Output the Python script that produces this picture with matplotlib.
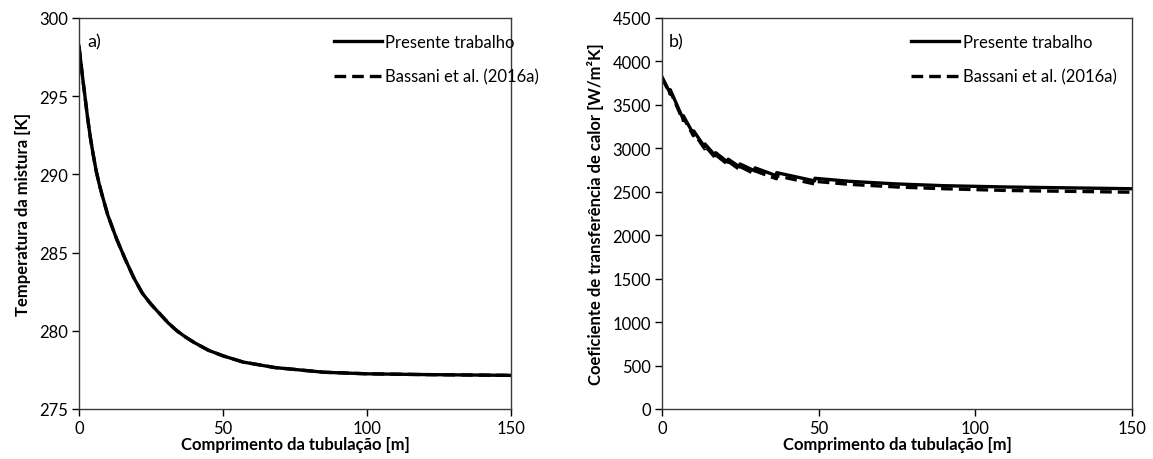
import numpy as np
import matplotlib
matplotlib.use('Agg')
from matplotlib import pyplot as plt

plt.rcParams['font.family'] = ['Lato', 'DejaVu Sans']

# a) temperatura da mistura
x_temp = [0, 1, 2, 3, 4, 5, 6, 7, 8, 10, 12, 13, 16, 19, 22, 25, 28, 31, 34, 37, 40, 45, 50, 57,
          68, 85, 100, 120, 150]
t_presente = [298.2, 296.6, 295.1, 293.6, 292.3, 291.2, 290.2, 289.4, 288.7, 287.4, 286.4, 285.9,
              284.6, 283.4, 282.4, 281.7, 281.1, 280.5, 280.0, 279.6, 279.25, 278.75, 278.4, 278.0,
              277.65, 277.35, 277.25, 277.2, 277.15]
t_bassani = [298.2, 296.6, 295.1, 293.6, 292.3, 291.2, 290.2, 289.4, 288.7, 287.4, 286.4, 285.9,
             284.6, 283.4, 282.4, 281.7, 281.1, 280.5, 280.0, 279.6, 279.25, 278.75, 278.4, 278.0,
             277.65, 277.35, 277.25, 277.2, 277.15]

# b) coeficiente de transferência de calor
x_h = [0, 2.5, 2.6, 6.7, 6.8, 10.0, 10.1, 13.6, 13.7, 17.0, 17.1, 21.0, 21.1, 24.8, 24.9,
       29.6, 29.7, 36.5, 36.6, 48.7, 48.8, 60, 75, 90, 110, 130, 150]
h_presente = [3820, 3640, 3675, 3340, 3375, 3165, 3200, 3015, 3050, 2915, 2950, 2840, 2875,
              2785, 2820, 2740, 2775, 2685, 2720, 2625, 2655, 2620, 2590, 2570, 2555, 2545, 2535]
h_bassani = [3815, 3625, 3660, 3320, 3355, 3145, 3180, 2995, 3030, 2890, 2925, 2815, 2850,
             2755, 2790, 2705, 2740, 2650, 2685, 2590, 2620, 2585, 2555, 2535, 2515, 2505, 2495]

labels = ['Presente trabalho', 'Bassani et al. (2016a)']
xlabel = 'Comprimento da tubulação [m]'
fs = 12


def style_axes(ax):
    ax.tick_params(direction='out', length=5, width=1, color='black', labelsize=fs, pad=3)
    for sp in ax.spines.values():
        sp.set_color('#3a3a3a')
        sp.set_linewidth(1)
    ax.set_xlim(0, 150)
    ax.set_xticks([0, 50, 100, 150])
    ax.set_xlabel(xlabel, fontweight='bold', fontsize=fs, labelpad=0)


fig = plt.figure(figsize=(11.53, 4.6), dpi=100)
ax1 = fig.add_axes([0.0685, 0.1087, 0.3747, 0.85])
ax2 = fig.add_axes([0.5742, 0.1087, 0.4076, 0.85])

dash = (0, (3.5, 1.8))

ax1.plot(x_temp, t_presente, color='black', lw=2.4, label=labels[0])
ax1.plot(x_temp, t_bassani, color='black', lw=2.4, ls=dash, label=labels[1])
ax1.set_ylim(275, 300)
ax1.set_yticks([275, 280, 285, 290, 295, 300])
ax1.set_ylabel('Temperatura da mistura [K]', fontweight='bold', fontsize=fs, labelpad=6)
ax1.text(0.02, 0.94, 'a)', transform=ax1.transAxes, fontsize=13, va='center')
style_axes(ax1)
ax1.legend(loc='upper left', bbox_to_anchor=(0.57, 0.98), frameon=False, borderpad=0,
           handlelength=2.9, handletextpad=0.2, labelspacing=1.1, fontsize=fs)

ax2.plot(x_h, h_presente, color='black', lw=2.4, label=labels[0])
ax2.plot(x_h, h_bassani, color='black', lw=2.4, ls=dash, label=labels[1])
ax2.set_ylim(0, 4500)
ax2.set_yticks(np.arange(0, 4501, 500))
ax2.set_ylabel('Coeficiente de transferência de calor [W/m²K]', fontweight='bold', fontsize=fs, labelpad=6)
ax2.text(0.015, 0.94, 'b)', transform=ax2.transAxes, fontsize=13, va='center')
style_axes(ax2)
ax2.legend(loc='upper left', bbox_to_anchor=(0.512, 0.98), frameon=False, borderpad=0,
           handlelength=2.9, handletextpad=0.2, labelspacing=1.1, fontsize=fs)

fig.savefig('out.png', dpi=100)
